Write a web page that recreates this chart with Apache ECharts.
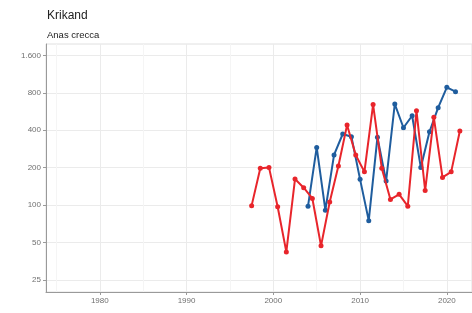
<!DOCTYPE html>
<html>
<head>
<meta charset="utf-8">
<script src="https://cdn.jsdelivr.net/npm/echarts@6/dist/echarts.min.js"></script>
<style>
  html, body { margin: 0; padding: 0; background: #fff; }
  #chart { width: 472px; height: 313px; }
</style>
</head>
<body>
<div id="chart"></div>
<script>
// red series sits half a year off the blue one in the original
const redYears = [1997.5, 1998.5, 1999.5, 2000.5, 2001.5, 2002.5, 2003.5, 2004.5, 2005.5, 2006.5, 2007.5, 2008.5, 2009.5,
  2010.5, 2011.5, 2012.5, 2013.5, 2014.5, 2015.5, 2016.5, 2017.5, 2018.5, 2019.5, 2020.5, 2021.5];
const redValues = [99, 198, 201, 97, 42, 162, 138, 113, 47, 106, 206, 440, 253,
  185, 644, 198, 111, 122, 98, 574, 131, 508, 167, 185, 394];

const blueYears = [2004, 2005, 2006, 2007, 2008, 2009, 2010, 2011, 2012, 2013, 2014, 2015, 2016, 2017, 2018, 2019, 2020, 2021];
const blueValues = [98, 291, 91, 253, 373, 355, 161, 75, 351, 156, 650, 419, 523, 201, 389, 607, 886, 817];

const xTicks = [1980, 1990, 2000, 2010, 2020];
const yTicks = [25, 50, 100, 200, 400, 800, 1600];
const yTickLabels = ['25', '50', '100', '200', '400', '800', '1.600'];

const pair = (xs, ys) => xs.map((x, i) => [x, ys[i]]);

const chart = echarts.init(document.getElementById('chart'), null, { renderer: 'canvas' });

const axisText = { color: '#707070', fontSize: 8, fontFamily: 'Liberation Sans, Arial, sans-serif' };

chart.setOption({
  animation: false,
  backgroundColor: '#fff',
  title: [
    { text: 'Krikand', left: 42, top: 5, textStyle: { fontSize: 12, fontWeight: 'normal', color: '#222', fontFamily: 'Liberation Sans, Arial, sans-serif' } },
    { text: 'Anas crecca', left: 42, top: 25, textStyle: { fontSize: 9.5, fontWeight: 'normal', color: '#222', fontFamily: 'Liberation Sans, Arial, sans-serif' } }
  ],
  grid: { left: 46, top: 44, right: 0, bottom: 21, show: true, borderColor: '#e0e0e0', borderWidth: 1 },
  xAxis: {
    type: 'value',
    min: 1973.8,
    max: 2022.9,
    axisLine: { show: true, onZero: false, lineStyle: { color: '#9a9a9a' } },
    axisTick: { show: true, length: 3, customValues: xTicks, lineStyle: { color: '#9a9a9a' } },
    axisLabel: { ...axisText, margin: 5, customValues: xTicks, formatter: v => String(v) },
    splitLine: { show: true, lineStyle: { color: '#ebebeb', width: 1 } },
    minorTick: { show: false, splitNumber: 2 },
    minorSplitLine: { show: true, lineStyle: { color: '#f5f5f5', width: 1 } }
  },
  yAxis: {
    type: 'log',
    logBase: 2,
    min: 20,
    max: 1975,
    axisLine: { show: true, lineStyle: { color: '#9a9a9a' } },
    axisTick: { show: true, length: 3, customValues: yTicks, lineStyle: { color: '#9a9a9a' } },
    axisLabel: { ...axisText, margin: 5, customValues: yTicks,
      formatter: v => { const i = yTicks.findIndex(t => Math.abs(t - v) < 0.5); return i >= 0 ? yTickLabels[i] : ''; } },
    splitLine: { show: true, lineStyle: { color: '#ebebeb', width: 1 } },
    minorSplitLine: { show: false }
  },
  series: [
    {
      name: 'red', type: 'line', data: pair(redYears, redValues),
      symbol: 'circle', symbolSize: 5, showSymbol: true,
      lineStyle: { color: '#e8252b', width: 2 }, itemStyle: { color: '#e8252b' }, z: 3
    },
    {
      name: 'blue', type: 'line', data: pair(blueYears, blueValues),
      symbol: 'circle', symbolSize: 5, showSymbol: true,
      lineStyle: { color: '#1f5d9e', width: 2 }, itemStyle: { color: '#1f5d9e' }, z: 2
    }
  ]
});
</script>
</body>
</html>
